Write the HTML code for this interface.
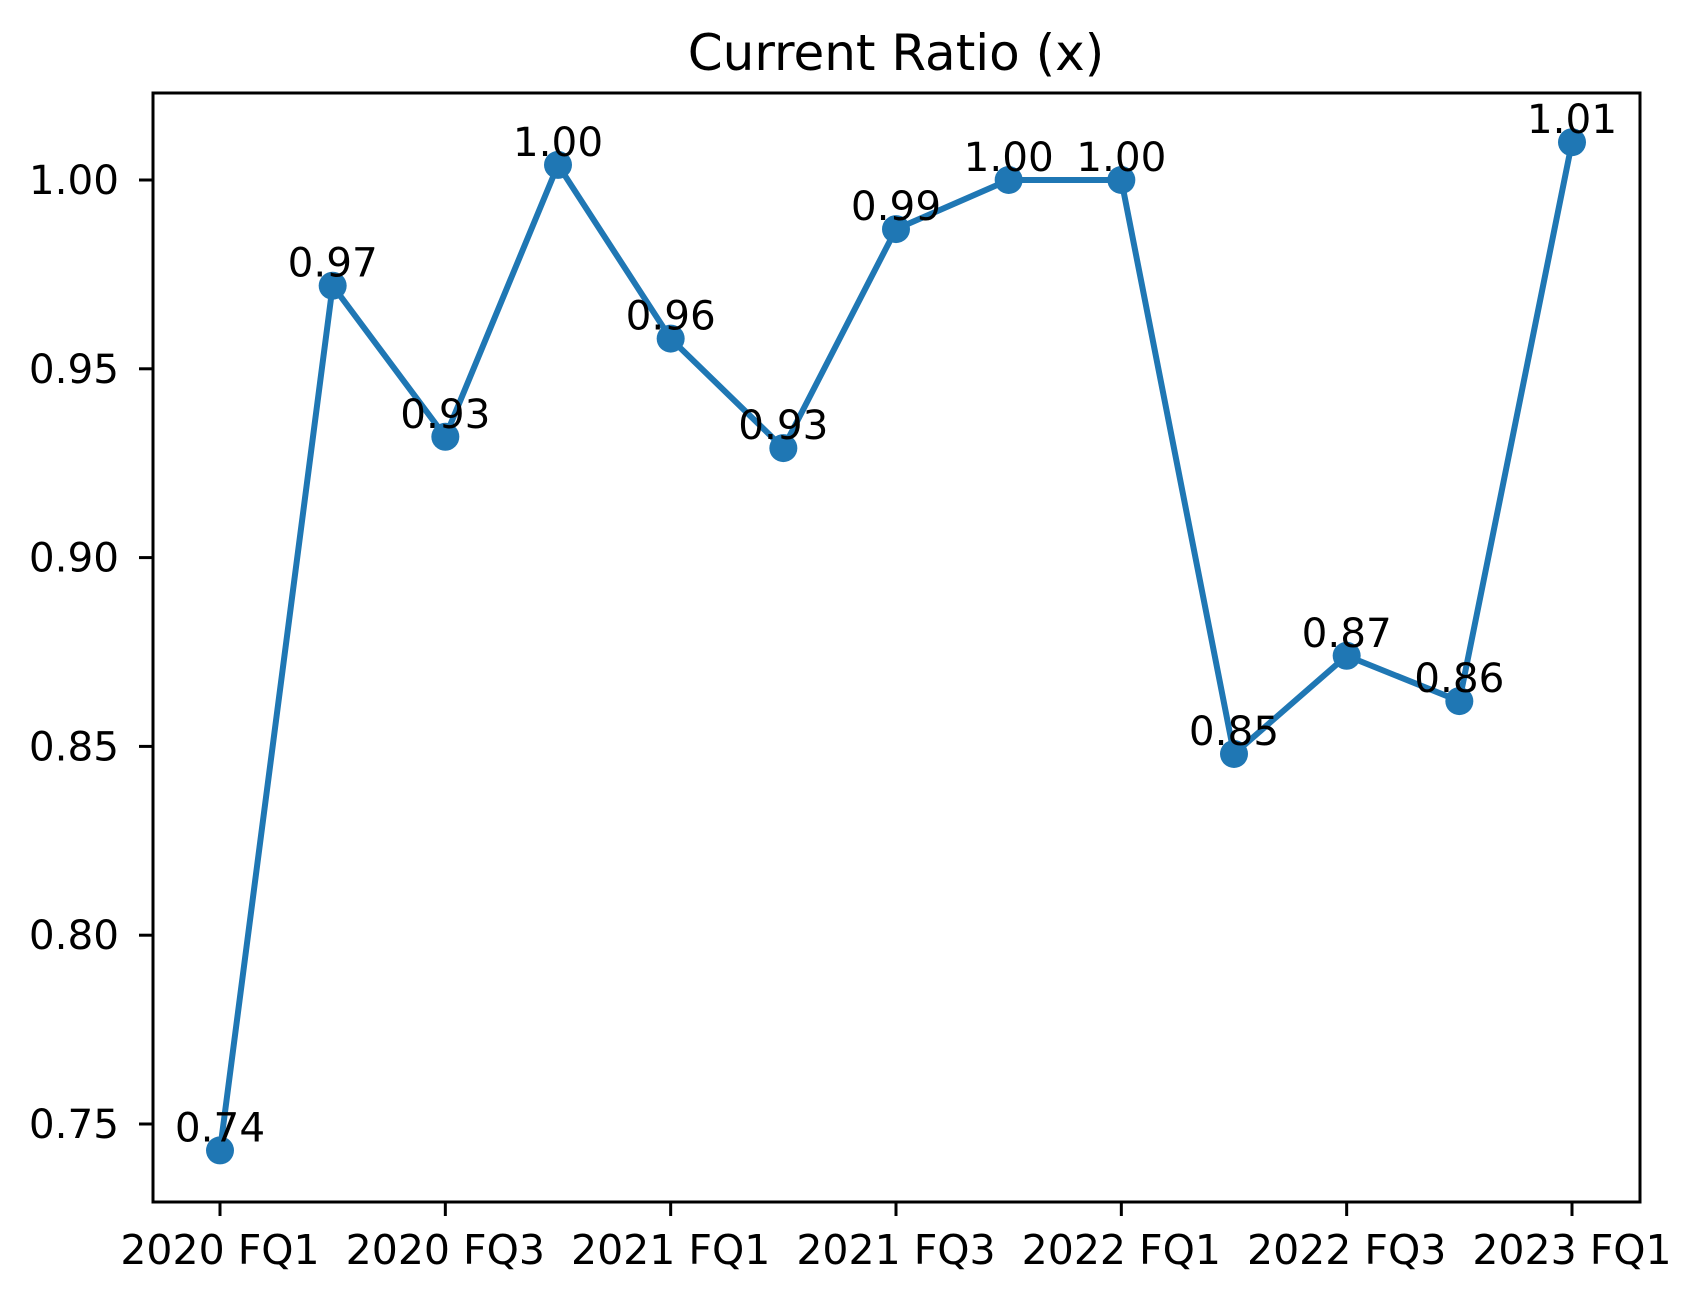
<!DOCTYPE html>
<html><head><meta charset="utf-8"><style>
html,body{margin:0;padding:0;background:#fff}
svg{display:block;font-family:"DejaVu Sans","Liberation Sans",sans-serif}
</style></head><body>
<svg id="chart" width="1703" height="1302" viewBox="0 0 1703 1302">
<rect x="0" y="0" width="1703" height="1302" fill="#fff"/>
<text x="896" y="70" font-size="50" text-anchor="middle">Current Ratio (x)</text>
<rect x="153" y="93" width="1487" height="1109" fill="none" stroke="#000" stroke-width="3"/>
</svg>
<script>
const categories=["2020 FQ1","2020 FQ2","2020 FQ3","2020 FQ4","2021 FQ1","2021 FQ2","2021 FQ3","2021 FQ4","2022 FQ1","2022 FQ2","2022 FQ3","2022 FQ4","2023 FQ1"];
const values=[0.743,0.972,0.932,1.004,0.958,0.929,0.987,1.000,1.000,0.848,0.874,0.862,1.010];
const valueLabels=["0.74","0.97","0.93","1.00","0.96","0.93","0.99","1.00","1.00","0.85","0.87","0.86","1.01"];
const yTicks=[0.75,0.80,0.85,0.90,0.95,1.00];
const yTickLabels=["0.75","0.80","0.85","0.90","0.95","1.00"];
const xTickIdx=[0,2,4,6,8,10,12];
const NS="http://www.w3.org/2000/svg";
const svg=document.getElementById('chart');
const x=i=>220+i*(1572-220)/12;
const y=v=>180+(1.0-v)/0.05*188.8;
function mk(tag,attrs){const e=document.createElementNS(NS,tag);for(const k in attrs)e.setAttribute(k,attrs[k]);svg.appendChild(e);return e;}
yTicks.forEach((t,i)=>{
  const l=mk('line',{x1:139,x2:153,y1:y(t),y2:y(t),stroke:'#000','stroke-width':3});
  
  
  const tx=mk('text',{x:119,y:y(t)+14,'font-size':40.5,'text-anchor':'end'});
  tx.textContent=yTickLabels[i];
  
  
});
xTickIdx.forEach(i=>{
  const l=mk('line',{x1:x(i),x2:x(i),y1:1202,y2:1216,stroke:'#000','stroke-width':3});
  
  
  const tx=mk('text',{x:x(i),y:1264,'font-size':41,'text-anchor':'middle'});
  tx.textContent=categories[i];
  
  
});
const pts=values.map((v,i)=>x(i)+','+y(v)).join(' ');
const line=mk('polyline',{points:pts,fill:'none',stroke:'#1f77b4','stroke-width':6,'stroke-linejoin':'round'});


values.forEach((v,i)=>{
  const c=mk('circle',{cx:x(i),cy:y(v),r:14,fill:'#1f77b4'});
  
  
});
values.forEach((v,i)=>{
  const t=mk('text',{x:x(i),y:y(v)-9,'font-size':40.5,'text-anchor':'middle'});
  t.textContent=valueLabels[i];
  
  
});
</script>
</body></html>
